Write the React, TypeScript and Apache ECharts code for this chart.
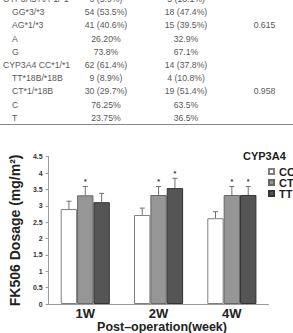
import React, { useEffect, useRef } from "react";
import * as echarts from "echarts";

// Genotype table shown above the chart
const rowLabels = [
  "CYP3A5 AA*1/*1",
  "GG*3/*3",
  "AG*1/*3",
  "A",
  "G",
  "CYP3A4 CC*1/*1",
  "TT*18B/*18B",
  "CT*1/*18B",
  "C",
  "T",
];
const rowIndented = [false, true, true, true, true, false, true, true, true, true];
const groupOneCol = ["6 (5.9%)", "54 (53.5%)", "41 (40.6%)", "26.20%", "73.8%", "62 (61.4%)", "9 (8.9%)", "30 (29.7%)", "76.25%", "23.75%"];
const groupTwoCol = ["5 (13.1%)", "18 (47.4%)", "15 (39.5%)", "32.9%", "67.1%", "14 (37.8%)", "4 (10.8%)", "19 (51.4%)", "63.5%", "36.5%"];
const pValueCol = ["", "", "0.615", "", "", "", "", "0.958", "", ""];

// FK506 dosage by CYP3A4 genotype
const weeks = ["1W", "2W", "4W"];
const genotypes = ["CC", "CT", "TT"];
const ccMean = [2.9, 2.72, 2.62];
const ccErr = [0.24, 0.21, 0.2];
const ctMean = [3.32, 3.33, 3.33];
const ctErr = [0.27, 0.26, 0.26];
const ttMean = [3.11, 3.54, 3.33];
const ttErr = [0.27, 0.3, 0.26];
const ccMarks = ["", "", ""];
const ctMarks = ["*", "*", "*"];
const ttMarks = ["", "*", "*"];

const FONT = "'Liberation Sans', Arial, sans-serif";
const GAP = 0.33;

export default function App() {
  const ref = useRef<HTMLDivElement>(null);

  useEffect(() => {
    document.body.style.margin = "0";
    if (!ref.current) return;
    const chart = echarts.init(ref.current, undefined, { renderer: "svg" });

    const rowY0 = -1;
    const rowStep = 13.2;
    const tableTexts: any[] = [];
    rowLabels.forEach((lab, i) => {
      const y = rowY0 + rowStep * i;
      const base = { fontFamily: FONT, fontSize: 8.7, fill: "#5a5a5a", verticalAlign: "middle" };
      tableTexts.push({ type: "text", x: rowIndented[i] ? 12 : 3, y, style: { ...base, text: lab, align: "left" } });
      tableTexts.push({ type: "text", x: 106, y, style: { ...base, text: groupOneCol[i], align: "center" } });
      tableTexts.push({ type: "text", x: 186, y, style: { ...base, text: groupTwoCol[i], align: "center" } });
      if (pValueCol[i]) {
        tableTexts.push({ type: "text", x: 264.5, y, style: { ...base, text: pValueCol[i], align: "center" } });
      }
    });

    const series: any[] = [];
    const groups = [
      { name: "CC", mean: ccMean, err: ccErr, marks: ccMarks, color: "#ffffff", border: "#808080" },
      { name: "CT", mean: ctMean, err: ctErr, marks: ctMarks, color: "#969696", border: "#666666" },
      { name: "TT", mean: ttMean, err: ttErr, marks: ttMarks, color: "#555555", border: "#333333" },
    ];
    groups.forEach((g) => {
      series.push({
        name: g.name,
        type: "bar",
        data: g.mean,
        barGap: "0%",
        barCategoryGap: GAP * 100 + "%",
        itemStyle: { color: g.color, borderColor: g.border, borderWidth: 1 },
      });
    });
    groups.forEach((g, k) => {
      series.push({
        type: "custom",
        z: 5,
        data: g.mean.map((m, i) => [i, m, g.err[i]]),
        renderItem: (params: any, api: any) => {
          const ci = api.value(0);
          const mean = api.value(1);
          const err = api.value(2);
          const base = api.coord([ci, mean]);
          const top = api.coord([ci, mean + err]);
          const band = api.size([1, 0])[0];
          const bw = (band * (1 - GAP)) / 3;
          const x = base[0] + (k - 1) * bw;
          const mark = g.marks[params.dataIndex];
          const children: any[] = [
            { type: "line", shape: { x1: x, y1: base[1], x2: x, y2: top[1] }, style: { stroke: "#707070", lineWidth: 1 } },
            { type: "line", shape: { x1: x - 2.5, y1: top[1], x2: x + 2.5, y2: top[1] }, style: { stroke: "#707070", lineWidth: 1 } },
          ];
          if (mark) {
            children.push({
              type: "text",
              x,
              y: top[1] - 1,
              style: { text: mark, fontSize: 7, fontWeight: "bold", fontFamily: FONT, fill: "#333", align: "center", verticalAlign: "bottom" },
            });
          }
          return { type: "group", children };
        },
      });
    });

    chart.setOption({
      animation: false,
      grid: { left: 36, right: 24.5, top: 156.7, bottom: 29 },
      legend: {
        data: genotypes,
        orient: "vertical",
        left: 268,
        top: 166,
        itemWidth: 5,
        itemHeight: 5,
        itemGap: 0,
        padding: 0,
        icon: "rect",
        textStyle: { fontFamily: FONT, fontSize: 11, fontWeight: "bold", color: "#222", lineHeight: 11 },
      },
      xAxis: {
        type: "category",
        data: weeks,
        axisTick: { show: false },
        axisLine: { lineStyle: { color: "#9a9a9a" } },
        axisLabel: { fontFamily: FONT, fontSize: 13, fontWeight: "bold", color: "#222", margin: 3 },
      },
      yAxis: {
        type: "value",
        min: 0,
        max: 4.5,
        interval: 0.5,
        splitLine: { show: false },
        axisLine: { show: true, lineStyle: { color: "#9a9a9a" } },
        axisTick: { show: true, length: 3, lineStyle: { color: "#9a9a9a" } },
        axisLabel: { fontFamily: FONT, fontSize: 7, fontWeight: "bold", color: "#333", margin: 6 },
        name: "FK506 Dosage (mg/m²)",
        nameLocation: "middle",
        nameGap: 19,
        nameTextStyle: { fontFamily: FONT, fontSize: 14, fontWeight: "bold", color: "#222" },
      },
      graphic: [
        ...tableTexts,
        { type: "line", shape: { x1: 0, y1: 124.5, x2: 293, y2: 124.5 }, style: { stroke: "#888", lineWidth: 1 } },
        {
          type: "text",
          x: 243,
          y: 155.7,
          style: { text: "CYP3A4", fontFamily: FONT, fontSize: 11, fontWeight: "bold", fill: "#222", verticalAlign: "middle" },
        },
        {
          type: "text",
          x: 162,
          y: 327,
          style: { text: "Post–operation(week)", fontFamily: FONT, fontSize: 12.5, fontWeight: "bold", fill: "#222", align: "center", verticalAlign: "middle" },
        },
      ],
      series,
    });

    return () => chart.dispose();
  }, []);

  return <div ref={ref} style={{ width: 293, height: 333 }} />;
}
